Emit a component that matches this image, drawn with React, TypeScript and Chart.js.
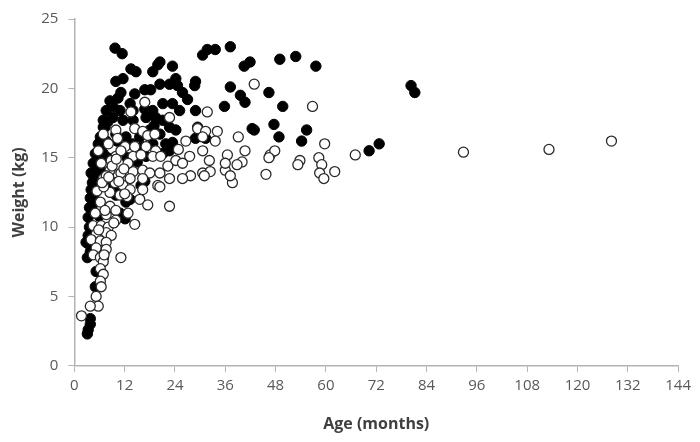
import React, { useEffect, useRef } from "react";
import { Chart, registerables } from "chart.js";

Chart.register(...registerables);

// Filled circles: [age (months), weight (kg)]
const filledAge = [
  9.7, 11.4, 13.5, 14.7, 9.9, 11.6, 18.7, 19.9, 20.4, 23.4, 11.1, 14.4, 16.8, 18.2, 20.4, 22.7, 24.2, 24.6, 25.8, 27.0,
  28.7, 28.9, 30.6, 31.7, 33.6, 37.2, 40.5, 41.9, 49.0, 52.8, 57.6, 37.2, 39.6, 40.7, 46.4, 49.7, 35.8, 28.9, 42.9, 47.6,
  48.8, 55.4, 54.2, 70.3, 72.7, 80.3, 81.2, 8.5, 9.2, 7.6, 10.9, 13.3, 14.0, 16.8, 18.7, 21.1, 23.4, 25.1, 6.9, 9.2,
  11.6, 14.0, 17.1, 19.4, 21.1, 22.7, 24.2, 6.9, 6.2, 7.6, 6.2, 6.9, 5.2, 5.0, 9.9, 12.3, 15.6, 18.0, 20.4, 21.8,
  23.4, 18.7, 16.3, 17.1, 21.1, 22.7, 29.8, 30.6, 31.3, 28.9, 42.4, 16.8, 15.9, 13.3, 9.9, 4.5, 4.0, 3.3, 3.3, 3.8,
  6.9, 5.2, 5.0, 3.8, 3.8, 3.3, 3.1, 5.7, 5.0, 4.5, 4.0, 4.3, 3.8, 3.6, 3.3, 3.6, 3.1, 2.8, 7.3, 10.9,
  12.3, 8.3, 9.5, 12.1, 29.4, 7.9, 12.8, 5.5, 6.0, 8.0, 10.2, 12.6, 15.0, 8.8, 10.4, 13.9, 19.0, 4.8, 5.9, 4.2,
];
const filledWeight = [
  22.9, 22.5, 21.4, 21.2, 20.5, 20.7, 21.2, 21.7, 21.9, 21.6, 19.7, 19.6, 19.9, 19.9, 20.3, 20.3, 20.7, 20.2, 19.7, 19.2,
  20.2, 20.5, 22.4, 22.8, 22.8, 23.0, 21.6, 21.9, 22.1, 22.3, 21.6, 20.1, 19.5, 19.0, 19.7, 18.7, 18.7, 18.4, 17.0, 17.4,
  16.5, 17.0, 16.2, 15.5, 16.0, 20.2, 19.7, 19.1, 18.7, 18.4, 18.4, 18.9, 18.4, 18.5, 18.4, 18.9, 18.9, 18.4, 17.7, 17.9,
  17.7, 17.7, 17.9, 17.9, 17.7, 17.2, 17.0, 17.2, 16.5, 16.2, 15.8, 15.3, 14.4, 13.7, 16.7, 16.5, 16.5, 17.0, 16.7, 16.0,
  16.1, 16.0, 15.8, 15.1, 15.3, 15.5, 17.0, 16.6, 16.4, 16.4, 17.1, 13.3, 13.0, 12.0, 12.3, 13.7, 12.7, 9.4, 8.8, 8.2,
  7.8, 6.8, 5.7, 3.4, 3.0, 2.6, 2.3, 16.0, 15.3, 14.6, 13.9, 13.2, 12.1, 11.4, 10.7, 10.0, 7.8, 8.9, 17.2, 11.0,
  11.8, 14.0, 12.8, 10.6, 17.2, 15.0, 16.0, 15.0, 14.2, 17.6, 16.2, 15.0, 14.7, 13.0, 19.3, 16.0, 17.3, 12.0, 10.8, 11.5,
];

// Open circles: [age (months), weight (kg)]
const openAge = [
  42.9, 56.8, 39.1, 36.5, 40.7, 40.0, 36.0, 37.7, 46.7, 47.8, 46.4, 45.7, 53.8, 53.3, 58.3, 59.0, 58.5, 59.5, 62.1, 59.7,
  67.0, 92.8, 113.2, 128.1, 16.8, 13.5, 22.7, 31.7, 9.9, 14.4, 16.3, 17.5, 19.2, 29.4, 31.3, 34.1, 30.6, 33.6, 12.1, 14.4,
  17.1, 19.4, 9.9, 14.0, 15.9, 18.7, 20.6, 24.2, 27.5, 30.6, 32.2, 36.0, 38.8, 6.4, 8.5, 11.1, 14.0, 16.3, 18.0, 20.4,
  22.3, 25.8, 27.7, 30.6, 32.4, 37.2, 6.9, 13.3, 16.3, 22.7, 25.8, 31.0, 16.3, 19.9, 15.6, 17.5, 22.7, 12.8, 14.4, 11.1,
  7.6, 9.7, 11.6, 13.3, 8.5, 10.9, 6.2, 8.5, 9.9, 5.0, 7.6, 9.9, 4.5, 6.4, 8.1, 5.2, 7.6, 8.8, 4.0, 6.2,
  7.6, 5.2, 7.6, 4.5, 6.2, 6.9, 6.2, 6.9, 6.2, 6.4, 5.2, 5.7, 3.8, 1.7, 6.9, 5.7, 8.1, 11.1, 8.8, 12.8,
  20.4, 10.3, 12.6, 24.8, 26.6, 5.4, 7.0, 9.0, 10.6, 12.0, 7.3, 9.4, 11.8, 6.6, 8.2, 10.0, 5.8, 7.1,
];
const openWeight = [
  20.3, 18.7, 16.5, 15.2, 15.5, 14.7, 14.1, 13.2, 15.2, 15.5, 15.0, 13.8, 14.8, 14.5, 15.0, 14.5, 13.9, 13.5, 14.0, 16.0,
  15.2, 15.4, 15.6, 16.2, 19.0, 18.3, 17.9, 18.3, 17.0, 17.1, 16.9, 16.6, 16.7, 17.1, 16.9, 16.9, 16.5, 16.2, 15.8, 15.8,
  15.8, 15.5, 15.1, 15.1, 15.2, 15.1, 15.1, 14.8, 15.1, 15.5, 14.8, 14.6, 14.5, 14.6, 14.1, 13.9, 14.0, 14.1, 13.9, 13.9,
  14.4, 14.6, 13.7, 13.9, 14.0, 13.7, 13.5, 13.5, 13.5, 13.5, 13.5, 13.7, 12.7, 13.0, 12.0, 11.6, 11.5, 11.0, 10.2, 7.8,
  13.7, 13.2, 13.0, 12.7, 12.5, 12.3, 11.8, 11.5, 11.2, 11.0, 10.9, 10.5, 10.1, 10.1, 10.0, 9.5, 9.6, 9.4, 9.1, 9.0,
  8.9, 8.5, 8.4, 8.0, 7.8, 7.5, 7.0, 6.6, 6.1, 5.7, 5.0, 4.3, 4.3, 3.6, 16.7, 15.5, 16.0, 15.5, 14.8, 14.6,
  12.9, 16.4, 12.2, 15.6, 16.2, 12.6, 12.9, 14.4, 13.3, 12.4, 11.2, 10.3, 14.2, 13.2, 13.6, 14.9, 9.8, 8.0,
];

const xTicks = [0, 12, 24, 36, 48, 60, 72, 84, 96, 108, 120, 132, 144];
const yTicks = [0, 5, 10, 15, 20, 25];

export default function App() {
  const ref = useRef<HTMLCanvasElement>(null);
  useEffect(() => {
    if (!ref.current) return;
    const open = openAge.map((a, i) => ({ x: a, y: openWeight[i] }));
    const filled = filledAge.map((a, i) => ({ x: a, y: filledWeight[i] }));
    const font = "'Open Sans', 'DejaVu Sans', sans-serif";
    const chart = new Chart(ref.current, {
      type: "scatter",
      data: {
        datasets: [
          {
            label: "Open",
            data: open,
            pointRadius: 5,
            pointBackgroundColor: "#ffffff",
            pointBorderColor: "#2a2a2a",
            pointBorderWidth: 1.3,
          },
          {
            label: "Filled",
            data: filled,
            pointRadius: 5.2,
            pointBackgroundColor: "#000000",
            pointBorderColor: "#000000",
            pointBorderWidth: 1,
          },
        ],
      },
      options: {
        animation: false,
        responsive: true,
        maintainAspectRatio: false,
        layout: { padding: { left: 0, right: 0, top: 0, bottom: 0 } },
        plugins: { legend: { display: false }, tooltip: { enabled: false } },
        scales: {
          x: {
            type: "linear",
            min: 0,
            max: 144,
            afterBuildTicks: (axis: any) => {
              axis.ticks = xTicks.map((v) => ({ value: v }));
            },
            grid: {
              display: true,
              drawOnChartArea: false,
              drawTicks: true,
              tickLength: 6,
              color: "#b3b3b3",
            },
            border: { display: true, color: "#b3b3b3", width: 1.5 },
            ticks: { color: "#595959", font: { family: font, size: 15 }, padding: 5, maxRotation: 0 },
            title: {
              display: true,
              text: "Age (months)",
              color: "#404040",
              font: { family: font, size: 16, weight: "bold" },
              padding: { top: 15, bottom: 0 },
            },
          },
          y: {
            type: "linear",
            min: 0,
            max: 25,
            afterBuildTicks: (axis: any) => {
              axis.ticks = yTicks.map((v) => ({ value: v }));
            },
            grid: {
              display: true,
              drawOnChartArea: false,
              drawTicks: true,
              tickLength: 6,
              color: "#b3b3b3",
            },
            border: { display: true, color: "#b3b3b3", width: 1.5 },
            ticks: { color: "#595959", font: { family: font, size: 15 }, padding: 10 },
            title: {
              display: true,
              text: "Weight (kg)",
              color: "#404040",
              font: { family: font, size: 16, weight: "bold" },
              padding: { top: 2, bottom: 2 },
            },
          },
        },
      },
    });
    return () => chart.destroy();
  }, []);
  return (
    <div style={{ width: 688, height: 434, marginTop: -8, position: "relative" }}>
      <canvas ref={ref} />
    </div>
  );
}
